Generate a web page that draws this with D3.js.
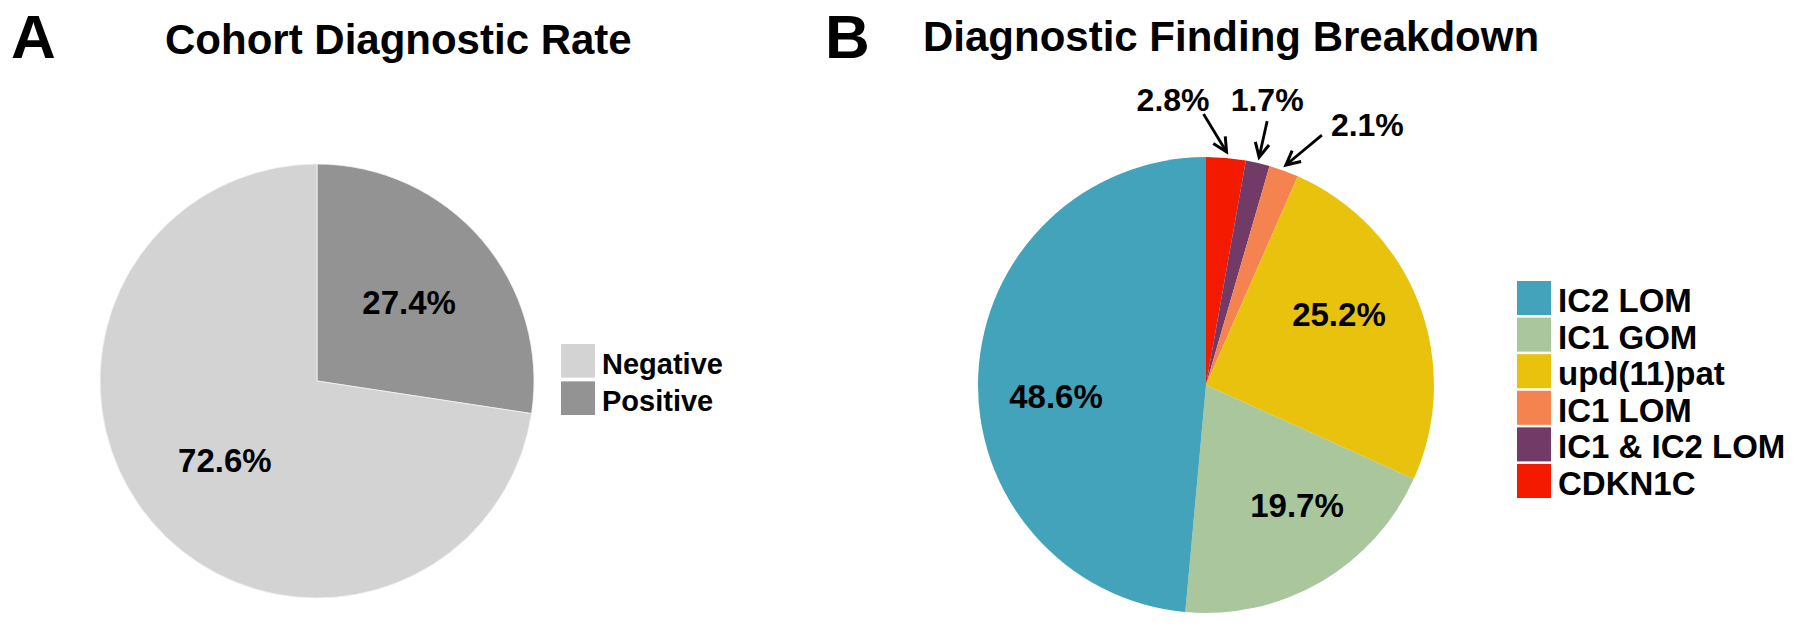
<!DOCTYPE html>
<html>
<head>
<meta charset="utf-8">
<script src="https://cdn.jsdelivr.net/npm/d3@7/dist/d3.min.js"></script>
<style>
  html, body { margin: 0; padding: 0; background: #fff; }
  svg { display: block; }
  text { font-family: "Liberation Sans", Arial, Helvetica, sans-serif; font-weight: bold; fill: #000; }
</style>
</head>
<body>
<svg id="chart" width="1800" height="629"></svg>
<script>
// ---------- DATA ----------
const panelATitle = "Cohort Diagnostic Rate";
const panelACategories = ["Negative", "Positive"];
const panelAValues = [72.6, 27.4];
const panelAColors = ["#d3d3d3", "#939393"];

const panelBTitle = "Diagnostic Finding Breakdown";
const panelBCategories = ["IC2 LOM", "IC1 GOM", "upd(11)pat", "IC1 LOM", "IC1 & IC2 LOM", "CDKN1C"];
const panelBValues = [48.6, 19.7, 25.2, 2.1, 1.7, 2.8];
const panelBColors = ["#43a3bb", "#a9c69c", "#e8c20c", "#f5834f", "#723b67", "#f31a00"];
const panelBCallouts = ["IC1 LOM", "IC1 & IC2 LOM", "CDKN1C"];

// ---------- SETUP ----------
const svg = d3.select("#chart");
svg.append("rect").attr("width", 1800).attr("height", 629).attr("fill", "#fff");
const fmt = v => d3.format(".1f")(v) + "%";

// Panel letters & titles
svg.append("text").attr("x", 11).attr("y", 58).style("font-size", "62px").text("A");
svg.append("text").attr("x", 825).attr("y", 58).style("font-size", "62px").text("B");
svg.append("text").attr("x", 165).attr("y", 54).style("font-size", "42px").text(panelATitle);
svg.append("text").attr("x", 923).attr("y", 51).style("font-size", "42px").text(panelBTitle);

// ---------- PANEL A ----------
(function () {
  const cx = 317, cy = 381, r = 217;
  const items = panelACategories.map((c, i) => ({ cat: c, value: panelAValues[i], color: panelAColors[i] }));
  const drawOrder = items.slice().reverse(); // Positive first, clockwise from 12 o'clock
  const pie = d3.pie().sort(null).value(d => d.value);
  const arcs = pie(drawOrder);
  const arc = d3.arc().innerRadius(0).outerRadius(r);
  const labelArc = d3.arc().innerRadius(r * 0.56).outerRadius(r * 0.56);
  const g = svg.append("g").attr("transform", `translate(${cx},${cy})`);
  g.selectAll("path.slice").data(arcs).join("path")
    .attr("class", "slice")
    .attr("d", arc)
    .attr("fill", d => d.data.color)
    .attr("stroke", "#f4f4f4").attr("stroke-width", 0.8);
  g.selectAll("text.lbl").data(arcs).join("text")
    .attr("class", "lbl")
    .attr("transform", d => `translate(${labelArc.centroid(d)})`)
    .attr("text-anchor", "middle").attr("dy", "0.36em")
    .style("font-size", "33px")
    .text(d => fmt(d.data.value));

  // legend
  const legend = svg.append("g").attr("transform", "translate(561,344)");
  const ly = d3.scaleBand().domain(panelACategories).range([0, 71]).paddingInner(0.1);
  legend.selectAll("rect").data(items).join("rect")
    .attr("x", 0).attr("y", d => ly(d.cat))
    .attr("width", 34).attr("height", ly.bandwidth())
    .attr("fill", d => d.color);
  legend.selectAll("text").data(items).join("text")
    .attr("x", 41).attr("y", d => ly(d.cat) + ly.bandwidth() - 4)
    .style("font-size", "29px")
    .text(d => d.cat);
})();

// ---------- PANEL B ----------
(function () {
  const cx = 1206, cy = 385, r = 228;
  const items = panelBCategories.map((c, i) => ({ cat: c, value: panelBValues[i], color: panelBColors[i] }));
  const drawOrder = items.slice().reverse(); // CDKN1C first, clockwise from 12 o'clock
  const pie = d3.pie().sort(null).value(d => d.value);
  const arcs = pie(drawOrder);
  const arc = d3.arc().innerRadius(0).outerRadius(r);
  const g = svg.append("g").attr("transform", `translate(${cx},${cy})`);
  g.selectAll("path.slice").data(arcs).join("path")
    .attr("class", "slice")
    .attr("d", arc)
    .attr("fill", d => d.data.color);

  // inside labels: placed at 0.66 r, rotated slightly counter-clockwise of slice middle
  const labelR = r * 0.66, labelRot = -7 * Math.PI / 180;
  const inner = arcs.filter(d => !panelBCallouts.includes(d.data.cat));
  g.selectAll("text.lbl").data(inner).join("text")
    .attr("class", "lbl")
    .attr("transform", d => {
      const a = (d.startAngle + d.endAngle) / 2 + labelRot;
      return `translate(${labelR * Math.sin(a)},${-labelR * Math.cos(a)})`;
    })
    .attr("text-anchor", "middle").attr("dy", "0.36em")
    .style("font-size", "33px")
    .text(d => fmt(d.data.value));

  // callouts with arrows for small slices (layout offsets only)
  const calloutLayout = {
    "CDKN1C":        { tail: [-23, -38], anchor: "end",    dx: 6, dy: -3 },
    "IC1 & IC2 LOM": { tail: [8, -36],   anchor: "middle", dx: 0, dy: -10 },
    "IC1 LOM":       { tail: [36, -30],  anchor: "start",  dx: 9, dy: 1 }
  };
  const small = arcs.filter(d => panelBCallouts.includes(d.data.cat));
  small.forEach(d => {
    const lay = calloutLayout[d.data.cat];
    const mid = (d.startAngle + d.endAngle) / 2;
    const tr = r + 6;
    const tip = [tr * Math.sin(mid), -tr * Math.cos(mid)];
    const tail = [tip[0] + lay.tail[0], tip[1] + lay.tail[1]];
    const len = Math.hypot(lay.tail[0], lay.tail[1]);
    const u = [-lay.tail[0] / len, -lay.tail[1] / len]; // direction tail -> tip
    const n = [-u[1], u[0]];
    const hl = 14, hw = 7;
    const b1 = [tip[0] - hl * u[0] + hw * n[0], tip[1] - hl * u[1] + hw * n[1]];
    const b2 = [tip[0] - hl * u[0] - hw * n[0], tip[1] - hl * u[1] - hw * n[1]];
    g.append("line")
      .attr("x1", tail[0]).attr("y1", tail[1])
      .attr("x2", tip[0] - 2 * u[0]).attr("y2", tip[1] - 2 * u[1])
      .attr("stroke", "#000").attr("stroke-width", 2.8);
    g.append("path")
      .attr("d", `M${b1[0]},${b1[1]} L${tip[0]},${tip[1]} L${b2[0]},${b2[1]}`)
      .attr("fill", "none").attr("stroke", "#000").attr("stroke-width", 3)
      .attr("stroke-linejoin", "miter").attr("stroke-linecap", "butt");
    g.append("text")
      .attr("x", tail[0] + lay.dx).attr("y", tail[1] + lay.dy)
      .attr("text-anchor", lay.anchor)
      .style("font-size", "32px")
      .text(fmt(d.data.value));
  });

  // legend
  const legend = svg.append("g").attr("transform", "translate(1517,281)");
  const ly = d3.scaleBand().domain(panelBCategories).range([0, 217]).paddingInner(0.07);
  legend.selectAll("rect").data(items).join("rect")
    .attr("x", 0).attr("y", d => ly(d.cat))
    .attr("width", 34).attr("height", ly.bandwidth())
    .attr("fill", d => d.color);
  legend.selectAll("text").data(items).join("text")
    .attr("x", 41).attr("y", d => ly(d.cat) + ly.bandwidth() - 3)
    .style("font-size", "33px")
    .text(d => d.cat);
})();
</script>
</body>
</html>
